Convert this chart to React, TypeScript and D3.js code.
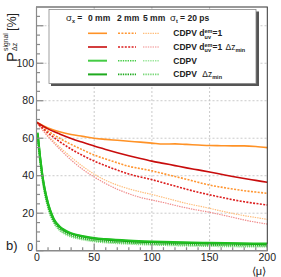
import React from 'react';
import * as d3 from 'd3';

const W = 281;
const H = 277;
const frame = { left: 36.5, right: 267.3, top: 7, bottom: 250.7 };

// <mu> sample points for the CDPV d_uv^em=1 curves
const muPoints = [0, 10, 20, 30, 40, 50, 60, 70, 80, 90, 100, 110, 120, 130, 140, 150, 160, 170, 180, 190, 200];
const dOne0mm = [68.5, 65.5, 63.5, 62, 61, 60, 59.4, 58.9, 58.4, 57.9, 57.4, 56.9, 57, 56.7, 56.4, 56.1, 56, 55.9, 55.9, 55.6, 55];
const dOneDz0mm = [68.5, 65, 62.3, 59.9, 57.8, 55.8, 54, 52.3, 50.7, 49.2, 47.8, 46.6, 45.4, 44.2, 43.1, 42, 40.8, 39.6, 38.5, 37.5, 36.5];
const dOne2mm = [68.5, 63.8, 60, 56.7, 53.8, 51, 48.9, 46.9, 45, 43.8, 42.6, 41.1, 39.6, 38.1, 36.5, 35, 33.9, 32.9, 32, 31.3, 30.6];
const dOneDz2mm = [68.5, 62.8, 58.2, 54.2, 50.8, 47.8, 45.3, 43, 40.9, 39.3, 37.9, 36.2, 34.5, 32.8, 31.2, 29.8, 28.5, 27.2, 26.1, 25.2, 24.4];
const dOne5mm = [68.5, 61.4, 55.3, 49.9, 45, 40.8, 37.5, 35, 33, 31.4, 30, 28.4, 26.8, 25.2, 23.9, 22.6, 21.2, 19.9, 18.7, 17.7, 16.7];
const dOneDz5mm = [68.5, 60.8, 54.3, 48.4, 43.4, 39.3, 35.8, 32.8, 30.4, 28.4, 27, 25.7, 24.2, 22.8, 21.6, 20.5, 19.2, 17.8, 16.4, 15.2, 14.2];

// <mu> sample points for the plain CDPV curves
const muGreen = [1, 2, 3, 4, 5, 6, 8, 10, 12, 15, 20, 25, 30, 40, 50, 60, 80, 100, 125, 150, 175, 200];
const cdpv0mm = [63, 57, 51, 46, 41, 37, 30.5, 25.5, 21.5, 17, 13, 10.8, 9.4, 7.8, 6.8, 6.2, 5.4, 4.9, 4.5, 4.2, 4.0, 3.8];
const cdpvDz0mm = [62.5, 56.5, 50.5, 45.5, 40.6, 36.6, 30.1, 25.1, 21.1, 16.7, 12.7, 10.5, 9.1, 7.5, 6.5, 5.9, 5.1, 4.6, 4.2, 3.9, 3.7, 3.5];
const cdpv2mm = [61, 55, 49, 44, 39.5, 35.5, 29, 24, 20, 15.8, 11.8, 9.6, 8.2, 6.6, 5.6, 5.0, 4.3, 3.8, 3.4, 3.1, 2.9, 2.7];
const cdpv5mm = [60, 54, 48, 43, 38.5, 34.5, 28, 23, 19, 15, 11, 8.8, 7.5, 6.0, 5.0, 4.4, 3.7, 3.2, 2.8, 2.5, 2.3, 2.2];

const xTicks = [0, 50, 100, 150, 200];
const yTicks = [0, 20, 40, 60, 80, 100];

const FONT = '"Liberation Sans", Arial, Helvetica, sans-serif';

const styles = {
  solid: { width: 1.6, dash: null },
  dot2: { width: 1.6, dash: '2,1.4' },
  dot5: { width: 1.2, dash: '1.4,1' },
  gSolid: { width: 2, dash: null },
  gDot: { width: 2, dash: '1.2,0.9' },
};

const series = [
  { mu: muPoints, v: dOne5mm, color: '#ffbd7a', ...styles.dot5 },
  { mu: muPoints, v: dOneDz5mm, color: '#f08a8a', ...styles.dot5 },
  { mu: muPoints, v: dOne2mm, color: '#ff9632', ...styles.dot2 },
  { mu: muPoints, v: dOneDz2mm, color: '#dc1e1e', ...styles.dot2 },
  { mu: muPoints, v: dOne0mm, color: '#ff9226', ...styles.solid },
  { mu: muPoints, v: dOneDz0mm, color: '#c80c0c', ...styles.solid },
  { mu: muGreen, v: cdpv5mm, color: '#7ad87a', ...styles.gDot },
  { mu: muGreen, v: cdpv2mm, color: '#2fb82f', ...styles.gDot },
  { mu: muGreen, v: cdpvDz0mm, color: '#14a014', ...styles.gSolid },
  { mu: muGreen, v: cdpv0mm, color: '#1fbf1f', ...styles.gSolid },
];

const legendRows = [
  ['#ff9226', '#ff9632', '#ffbd7a'],
  ['#c80c0c', '#dc1e1e', '#f08a8a'],
  ['#44cc44', '#44cc44', '#9be69b'],
  ['#1faa1f', '#1faa1f', '#7ad87a'],
];

export default function App() {
  const x = d3.scaleLinear().domain([0, 200]).range([frame.left, frame.right]);
  const y = d3.scaleLinear().domain([0, 130]).range([frame.bottom, frame.top]);
  const line = d3
    .line()
    .x(d => x(d[0]))
    .y(d => y(d[1]))
    .curve(d3.curveMonotoneX);

  const xMinor = d3.range(0, 201, 10);
  const yMinor = d3.range(0, 130, 5);

  const rowY = [33.3, 47, 60.7, 74.4];
  const colX = [
    [88, 107],
    [118, 136],
    [143, 159.5],
  ];
  const colStyle = [styles.solid, styles.dot2, styles.dot5];

  return (
    <svg
      width={W}
      height={H}
      style={{ position: 'fixed', left: 0, top: 0, background: '#fff' }}
      fontFamily={FONT}
    >
      <rect width={W} height={H} fill="#fff" />

      {/* grid */}
      <g stroke="#bdbdbd" strokeWidth={0.8} strokeDasharray="2,2">
        {xTicks.slice(1, -1).map(t => (
          <line key={'gx' + t} x1={x(t)} x2={x(t)} y1={frame.top} y2={frame.bottom} />
        ))}
        {[20, 40, 60, 80, 100, 120].map(t => (
          <line key={'gy' + t} x1={frame.left} x2={frame.right} y1={y(t)} y2={y(t)} />
        ))}
      </g>

      {/* curves */}
      <g fill="none">
        {series.map((s, i) => (
          <path
            key={i}
            d={line(s.mu.map((m, j) => [m, s.v[j]]))}
            stroke={s.color}
            strokeWidth={s.width}
            strokeDasharray={s.dash || undefined}
          />
        ))}
      </g>

      {/* frame and axes */}
      <rect
        x={frame.left}
        y={frame.top}
        width={frame.right - frame.left}
        height={frame.bottom - frame.top}
        fill="none"
        stroke="#333"
        strokeWidth={1}
      />
      <g stroke="#8a8a8a" strokeWidth={1.2}>
        <line x1={frame.left} x2={frame.left} y1={frame.top} y2={frame.bottom} />
        <line x1={frame.left} x2={frame.right} y1={frame.bottom} y2={frame.bottom} />
        {xMinor.map(t => (
          <line
            key={'xt' + t}
            x1={x(t)}
            x2={x(t)}
            y1={frame.bottom}
            y2={frame.bottom - (t % 50 === 0 ? 7 : 3.5)}
          />
        ))}
        {yMinor.map(t => (
          <line
            key={'yt' + t}
            x1={frame.left}
            x2={frame.left + (t % 20 === 0 ? 7 : 3.5)}
            y1={y(t)}
            y2={y(t)}
          />
        ))}
      </g>

      {/* tick labels */}
      <g fontSize={10.5} fill="#222">
        {xTicks.map(t => (
          <text key={'xl' + t} x={x(t) + (t === 0 ? 0.5 : 0)} y={260.5} textAnchor="middle">
            {t}
          </text>
        ))}
        {yTicks.map(t => (
          <text key={'yl' + t} x={t === 0 ? 33 : 34} y={y(t) + (t === 0 ? 0.5 : 3.7)} textAnchor="end">
            {t}
          </text>
        ))}
      </g>

      {/* axis titles */}
      <text x={266} y={275} textAnchor="end" fontSize={11} fill="#222">
        ⟨μ⟩
      </text>
      <g transform="translate(17,9) rotate(-90)" fill="#222">
        <text x={-53} y={0} fontSize={15}>
          P
        </text>
        <text x={-42} y={-9} fontSize={6.8}>
          signal
        </text>
        <text x={-42} y={0} fontSize={7}>
          Δz
        </text>
        <text x={-22} y={-1} fontSize={12.5}>
          [%]
        </text>
      </g>
      <text x={6} y={249.5} fontSize={13} fill="#222">
        b)
      </text>

      {/* legend */}
      <rect x={51} y={11.5} width={208} height={74.5} fill="#555" />
      <rect x={49} y={9.5} width={207} height={74} fill="#fff" stroke="#888" strokeWidth={0.8} />
      <g fontSize={8.5} fontWeight="bold" fill="#222">
        <text x={66} y={20.5}>
          <tspan fontWeight="normal" fontSize={9.5}>σ</tspan>
          <tspan dy={2} fontSize={5.5}>x</tspan>
          <tspan dy={-2}> =</tspan>
        </text>
        <text x={88} y={20.5}>0 mm</text>
        <text x={117} y={20.5}>2 mm</text>
        <text x={143} y={20.5}>5 mm</text>
        <text x={170} y={20.5}>
          <tspan fontWeight="normal" fontSize={9.5}>σ</tspan>
          <tspan dy={2} fontSize={5.5}>t</tspan>
          <tspan dy={-2}> = 20 ps</tspan>
        </text>

        <text x={173.3} y={rowY[0] + 3}>
          CDPV d<tspan dy={-3.2} fontSize={5.5}>em</tspan>
          <tspan dx={-7.9} dy={5.6} fontSize={5.5}>uv</tspan>
          <tspan dx={1.5} dy={-2.4}>=1</tspan>
        </text>
        <text x={173.3} y={rowY[1] + 3}>
          CDPV d<tspan dy={-3.2} fontSize={5.5}>em</tspan>
          <tspan dx={-7.9} dy={5.6} fontSize={5.5}>uv</tspan>
          <tspan dx={1.5} dy={-2.4}>=1 </tspan>
          <tspan dx={1} fontWeight="normal">Δz</tspan>
          <tspan dy={2} fontSize={5.5}>min</tspan>
        </text>
        <text x={173.3} y={rowY[2] + 3}>
          CDPV
        </text>
        <text x={173.3} y={rowY[3] + 3}>
          CDPV <tspan dx={3} fontWeight="normal">Δz</tspan>
          <tspan dy={2} fontSize={5.5}>min</tspan>
        </text>
      </g>
      <g>
        {legendRows.map((row, r) =>
          row.map((c, k) => {
            const st = r >= 2 ? (k === 0 ? styles.gSolid : { width: 1.6, dash: '1.4,1' }) : colStyle[k];
            return (
              <line
                key={r + '-' + k}
                x1={colX[k][0]}
                x2={colX[k][1]}
                y1={rowY[r]}
                y2={rowY[r]}
                stroke={c}
                strokeWidth={st.width}
                strokeDasharray={st.dash || undefined}
              />
            );
          })
        )}
      </g>
    </svg>
  );
}
